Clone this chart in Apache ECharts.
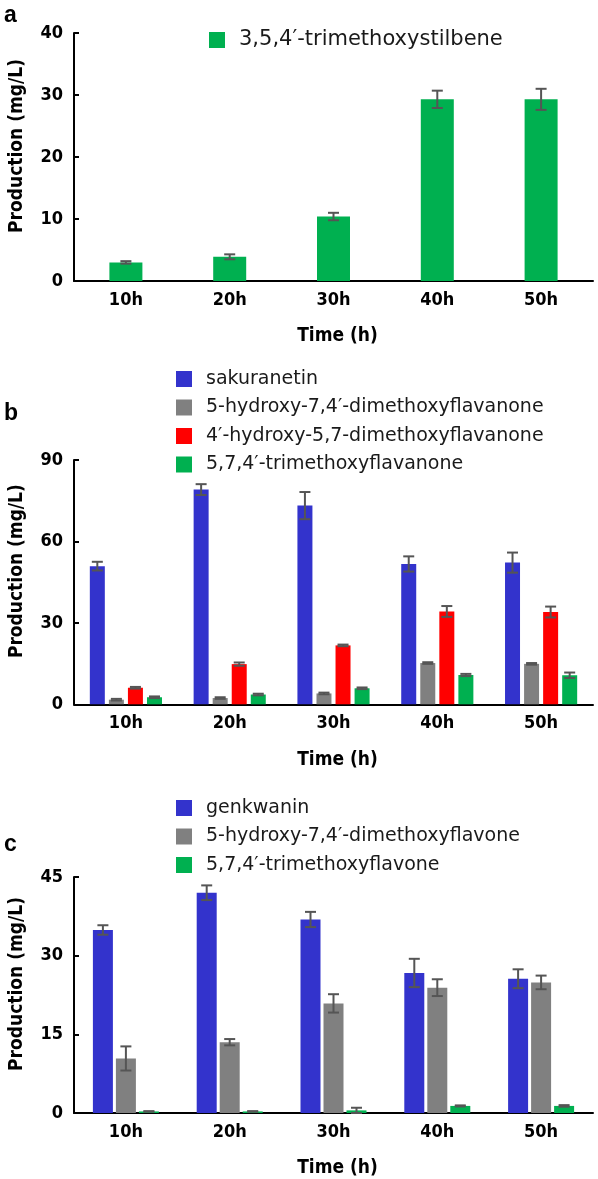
<!DOCTYPE html>
<html>
<head>
<meta charset="utf-8">
<script src="https://cdn.jsdelivr.net/npm/echarts@6/dist/echarts.min.js"></script>
<style>
html,body{margin:0;padding:0;background:#fff;}
#chart{width:598px;height:1179px;}
</style>
</head>
<body>
<div id="chart"></div>
<script>
// ---------- data ----------
const categories = ['10h', '20h', '30h', '40h', '50h'];

// panel a
const stilbeneName = '3,5,4′-trimethoxystilbene';
const stilbene    = [3.0, 3.9, 10.4, 29.3, 29.3];
const stilbeneErr = [0.2, 0.4, 0.6, 1.4, 1.7];

// panel b
const sakuranetinName = 'sakuranetin';
const sakuranetin     = [50.9, 79.1, 73.2, 51.7, 52.2];
const sakuranetinErr  = [1.6, 2.0, 5.0, 2.8, 3.7];
const hdmFlavanoneName = '5-hydroxy-7,4′-dimethoxyflavanone';
const hdmFlavanone     = [1.7, 2.3, 4.0, 15.2, 14.9];
const hdmFlavanoneErr  = [0.3, 0.3, 0.3, 0.3, 0.3];
const hdm57FlavanoneName = '4′-hydroxy-5,7-dimethoxyflavanone';
const hdm57Flavanone     = [6.1, 14.8, 21.7, 34.2, 34.0];
const hdm57FlavanoneErr  = [0.3, 0.6, 0.3, 2.0, 2.0];
const tmFlavanoneName = '5,7,4′-trimethoxyflavanone';
const tmFlavanone     = [2.6, 3.6, 5.9, 10.8, 10.7];
const tmFlavanoneErr  = [0.3, 0.3, 0.3, 0.4, 1.0];

// panel c
const genkwaninName = 'genkwanin';
const genkwanin     = [34.9, 42.0, 36.9, 26.7, 25.6];
const genkwaninErr  = [0.9, 1.4, 1.45, 2.7, 1.8];
const hdmFlavoneName = '5-hydroxy-7,4′-dimethoxyflavone';
const hdmFlavone     = [10.4, 13.5, 20.9, 23.9, 24.9];
const hdmFlavoneErr  = [2.3, 0.6, 1.75, 1.6, 1.3];
const tmFlavoneName = '5,7,4′-trimethoxyflavone';
const tmFlavone     = [0.3, 0.3, 0.5, 1.35, 1.35];
const tmFlavoneErr  = [0.05, 0.05, 0.5, 0.1, 0.15];

// axis ticks
const yMaxA = 40, yIntA = 10;
const yMaxB = 90, yIntB = 30;
const yMaxC = 45, yIntC = 15;

// ---------- style ----------
const BLUE = '#3333CC', GRAY = '#808080', RED = '#FF0000', GREEN = '#00B050';
const ERR = '#555555';
const boldFont = '"DejaVu Sans Condensed", "DejaVu Sans", sans-serif';
const legendFont = '"DejaVu Sans", sans-serif';

const chart = echarts.init(document.getElementById('chart'), null, {renderer: 'canvas'});

const grids = [
  {left: 66, right: 5, top: 33, height: 248},
  {left: 66, right: 5, top: 460, height: 244.3},
  {left: 66, right: 5, top: 877, height: 244.5}
];

function xAxis(gi) {
  return {
    type: 'category', gridIndex: gi, data: categories,
    name: 'Time (h)', nameLocation: 'middle', nameGap: 46,
    nameTextStyle: {fontFamily: boldFont, fontWeight: 'bold', fontSize: 19, color: '#000', padding: [0, 0, 0, 8]},
    axisLine: {lineStyle: {color: '#000', width: 2}},
    axisTick: {inside: true, length: 6, lineStyle: {color: '#000', width: 2}},
    axisLabel: {fontFamily: boldFont, fontWeight: 'bold', fontSize: 18, color: '#000', margin: 10}
  };
}
function yAxis(gi, max, interval) {
  return {
    type: 'value', gridIndex: gi, min: 0, max: max, interval: interval,
    name: 'Production (mg/L)', nameLocation: 'middle', nameGap: 47, nameRotate: 90,
    nameTextStyle: {fontFamily: boldFont, fontWeight: 'bold', fontSize: 19, color: '#000', padding: [0, 0, 0, 22]},
    axisLine: {show: true, lineStyle: {color: '#000', width: 2}},
    axisTick: {show: true, inside: true, length: 5, lineStyle: {color: '#000', width: 2}},
    axisLabel: {fontFamily: boldFont, fontWeight: 'bold', fontSize: 18, color: '#000', margin: 11},
    splitLine: {show: false}
  };
}

const series = [];
function addGroup(gi, list, barWidth, barGapPct) {
  const n = list.length;
  const pitch = barWidth * (1 + barGapPct / 100);
  list.forEach((s) => {
    series.push({
      name: s.name, type: 'bar', xAxisIndex: gi, yAxisIndex: gi,
      data: s.values, barWidth: barWidth, barGap: barGapPct + '%',
      itemStyle: {color: s.color}, z: 2
    });
  });
  list.forEach((s, i) => {
    const offset = (i - (n - 1) / 2) * pitch;
    series.push({
      type: 'custom', xAxisIndex: gi, yAxisIndex: gi, z: 5, silent: true,
      encode: {x: 0, y: 1},
      data: s.values.map((v, k) => [k, v, s.err[k]]),
      renderItem: function (params, api) {
        const k = api.value(0), v = api.value(1), e = api.value(2);
        const x = api.coord([k, v])[0] + offset;
        const yTop = api.coord([k, v + e])[1];
        const yBot = api.coord([k, Math.max(v - e, 0)])[1];
        const cap = 5.5;
        const st = {stroke: ERR, lineWidth: 2};
        return {
          type: 'group',
          children: [
            {type: 'line', shape: {x1: x, y1: yTop, x2: x, y2: yBot}, style: st},
            {type: 'line', shape: {x1: x - cap, y1: yTop, x2: x + cap, y2: yTop}, style: st},
            {type: 'line', shape: {x1: x - cap, y1: yBot, x2: x + cap, y2: yBot}, style: st}
          ]
        };
      }
    });
  });
}

addGroup(0, [
  {name: stilbeneName, values: stilbene, err: stilbeneErr, color: GREEN}
], 33, 0);
addGroup(1, [
  {name: sakuranetinName, values: sakuranetin, err: sakuranetinErr, color: BLUE},
  {name: hdmFlavanoneName, values: hdmFlavanone, err: hdmFlavanoneErr, color: GRAY},
  {name: hdm57FlavanoneName, values: hdm57Flavanone, err: hdm57FlavanoneErr, color: RED},
  {name: tmFlavanoneName, values: tmFlavanone, err: tmFlavanoneErr, color: GREEN}
], 15, 27);
addGroup(2, [
  {name: genkwaninName, values: genkwanin, err: genkwaninErr, color: BLUE},
  {name: hdmFlavoneName, values: hdmFlavone, err: hdmFlavoneErr, color: GRAY},
  {name: tmFlavoneName, values: tmFlavone, err: tmFlavoneErr, color: GREEN}
], 20, 15);

function legend(names, left, top, fontSize, lineH, gap) {
  return {
    data: names, orient: 'vertical', left: left, top: top,
    itemWidth: 16, itemHeight: 16, itemGap: gap, icon: 'rect',
    selectedMode: false,
    textStyle: {fontFamily: legendFont, fontSize: fontSize, color: '#1a1a1a', lineHeight: lineH, padding: [0, 0, 0, 9]}
  };
}

const option = {
  animation: false,
  backgroundColor: '#fff',
  grid: grids,
  xAxis: [xAxis(0), xAxis(1), xAxis(2)],
  yAxis: [yAxis(0, yMaxA, yIntA), yAxis(1, yMaxB, yIntB), yAxis(2, yMaxC, yIntC)],
  legend: [
    legend([stilbeneName], 204, 24, 21, 22, 8),
    legend([sakuranetinName, hdmFlavanoneName, hdm57FlavanoneName, tmFlavanoneName], 171, 364, 19, 20, 8.5),
    legend([genkwaninName, hdmFlavoneName, tmFlavoneName], 171, 793, 19, 20, 8.5)
  ],
  graphic: [
    {type: 'text', left: 4, top: 4, style: {text: 'a', font: 'bold 23px "Liberation Sans", Arial, sans-serif', fill: '#000'}},
    {type: 'text', left: 4, top: 402, style: {text: 'b', font: 'bold 23px "Liberation Sans", Arial, sans-serif', fill: '#000'}},
    {type: 'text', left: 4, top: 833, style: {text: 'c', font: 'bold 23px "Liberation Sans", Arial, sans-serif', fill: '#000'}}
  ],
  series: series
};
chart.setOption(option);
</script>
</body>
</html>
